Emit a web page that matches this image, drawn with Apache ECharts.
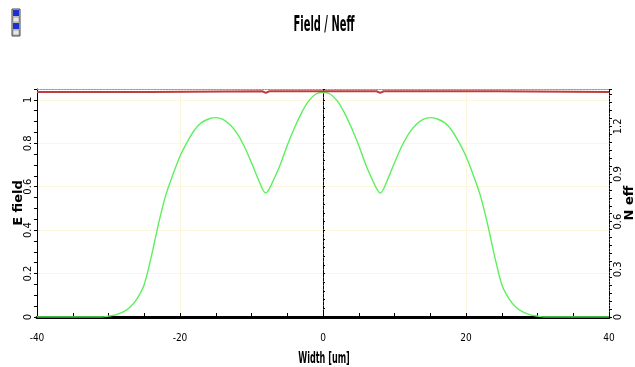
<!DOCTYPE html>
<html><head><meta charset="utf-8">
<script src="https://cdn.jsdelivr.net/npm/echarts@6/dist/echarts.min.js"></script>
<style>html,body{margin:0;padding:0;background:#fff}#c{width:635px;height:367px}</style>
</head><body><div id="c"></div>
<script>
// E field profile (Width [um] -> normalized field)
const fieldX = [-40, -31, -30, -29, -28, -27, -26, -25, -24, -23, -22, -21, -20, -19, -18, -17, -16, -15, -14, -13, -12, -11, -10, -9, -8.4, -8, -7.6, -7, -6, -5, -4, -3, -2, -1, 0,
                1, 2, 3, 4, 5, 6, 7, 7.6, 8, 8.4, 9, 10, 11, 12, 13, 14, 15, 16, 17, 18, 19, 20, 21, 22, 23, 24, 25, 26, 27, 28, 29, 30, 31, 40];
const fieldY = [0, 0, 0.004, 0.01, 0.022, 0.045, 0.085, 0.15, 0.28, 0.43, 0.56, 0.655, 0.74, 0.805, 0.86, 0.895, 0.912, 0.918, 0.91, 0.885, 0.845, 0.785, 0.71, 0.63, 0.585, 0.571, 0.585, 0.625, 0.70, 0.79, 0.87, 0.94, 0.995, 1.027, 1.035,
                1.027, 0.995, 0.94, 0.87, 0.79, 0.70, 0.625, 0.585, 0.571, 0.585, 0.63, 0.71, 0.785, 0.845, 0.885, 0.91, 0.918, 0.912, 0.895, 0.86, 0.805, 0.74, 0.655, 0.56, 0.43, 0.28, 0.15, 0.085, 0.045, 0.022, 0.01, 0.004, 0, 0];
// Effective index
const neffX = [-40, -24.2, -24, -8.5, -8, -7.5, 7.5, 8, 8.5, 24, 24.2, 40];
const neffY = [1.416, 1.416, 1.421, 1.421, 1.411, 1.421, 1.421, 1.411, 1.421, 1.421, 1.416, 1.416];

const NARROW = "'Liberation Sans Narrow','DejaVu Sans Condensed','Arial Narrow',sans-serif";
const WIDE = "'DejaVu Sans',sans-serif";

const chart = echarts.init(document.getElementById('c'), null, {renderer: 'canvas'});
chart.setOption({
  animation: false,
  backgroundColor: '#ffffff',
  graphic: [
    {type: 'text', x: 324, y: 25, scaleX: 0.5,
     style: {text: 'Field / Neff', font: 'bold 22px ' + NARROW, fill: '#000', align: 'center', verticalAlign: 'middle'}},
    {type: 'text', x: 324, y: 359, scaleX: 0.6,
     style: {text: 'Width [um]', font: 'bold 15px ' + NARROW, fill: '#000', align: 'center', verticalAlign: 'middle'}},
    {type: 'group', x: 12, y: 9, children: [
      {type: 'rect', shape: {x: 0, y: 0, width: 8, height: 27}, style: {fill: '#d8d8d8', stroke: '#444', lineWidth: 1}},
      {type: 'rect', shape: {x: 1, y: 1, width: 6, height: 6}, style: {fill: '#1e2fd0'}},
      {type: 'rect', shape: {x: 1, y: 8, width: 6, height: 5}, style: {fill: '#e8e8e8', stroke: '#666', lineWidth: 0.5}},
      {type: 'rect', shape: {x: 1, y: 14, width: 6, height: 6}, style: {fill: '#1e2fd0'}},
      {type: 'rect', shape: {x: 1, y: 21, width: 6, height: 5}, style: {fill: '#e8e8e8', stroke: '#666', lineWidth: 0.5}}
    ]}
  ],
  grid: {left: 37, right: 26, top: 89, bottom: 50, outerBoundsMode: 'none', containLabel: false},
  xAxis: [
    {type: 'value', position: 'bottom', min: -40, max: 40, interval: 20,
     axisLine: {onZero: false, lineStyle: {color: '#000', width: 3}},
     axisTick: {show: true, inside: true, length: 4, lineStyle: {color: '#000'}},
     minorTick: {show: true, splitNumber: 4, length: 4, lineStyle: {color: '#000'}},
     axisLabel: {fontFamily: NARROW, fontSize: 10, color: '#000', margin: 16},
     splitLine: {show: true, lineStyle: {color: '#fcf6dc', width: 1}}},
    {type: 'value', position: 'top', min: -40, max: 40, interval: 20,
     axisLine: {onZero: false, lineStyle: {color: '#9a9a9a', width: 1, type: [2, 1]}},
     axisTick: {show: false}, axisLabel: {show: false}, splitLine: {show: false}}
  ],
  yAxis: [
    {type: 'value', position: 'left', min: 0, max: 1.05, interval: 0.2,
     name: 'E field', nameLocation: 'middle', nameGap: 12, nameRotate: 90, nameMoveOverlap: false,
     nameTextStyle: {fontFamily: WIDE, fontWeight: 'bold', fontSize: 13, color: '#000'},
     axisLine: {onZero: false, lineStyle: {color: '#000', width: 1}},
     axisTick: {show: true, length: 3, lineStyle: {color: '#000'}},
     minorTick: {show: true, splitNumber: 4, length: 3, lineStyle: {color: '#000'}},
     axisLabel: {rotate: 90, fontFamily: WIDE, fontSize: 10, color: '#000', margin: 4, showMaxLabel: false},
     splitLine: {show: true, lineStyle: {color: '#fcf6dc', width: 1}}},
    {type: 'value', position: 'right', min: 0, max: 1.435, interval: 0.3,
     name: 'N eff', nameLocation: 'middle', nameGap: 14, nameRotate: 90, nameMoveOverlap: false,
     nameTextStyle: {fontFamily: WIDE, fontWeight: 'bold', fontSize: 13, color: '#000'},
     axisLine: {onZero: false, lineStyle: {color: '#000', width: 1, type: [2, 1]}},
     axisTick: {show: true, length: 3, lineStyle: {color: '#000'}},
     minorTick: {show: true, splitNumber: 6, length: 3, lineStyle: {color: '#000'}},
     axisLabel: {rotate: 90, fontFamily: WIDE, fontSize: 10, color: '#000', margin: 4, showMaxLabel: false},
     splitLine: {show: false}},
    {type: 'value', position: 'left', min: 0, max: 1.05, interval: 0.2,
     axisLine: {onZero: true, lineStyle: {color: '#000', width: 1, type: [3, 1]}},
     axisTick: {show: true, length: 2, inside: true, lineStyle: {color: '#000'}},
     minorTick: {show: true, splitNumber: 5, length: 2, lineStyle: {color: '#000'}},
     axisLabel: {show: false}, splitLine: {show: false}}
  ],
  series: [
    {type: 'line', name: 'E field', xAxisIndex: 0, yAxisIndex: 0, showSymbol: false, smooth: 0.3,
     data: fieldX.map((x, i) => [x, fieldY[i]]),
     lineStyle: {color: '#5df05d', width: 1.4}, z: 3},
    {type: 'line', name: 'N eff', xAxisIndex: 0, yAxisIndex: 1, showSymbol: false,
     data: neffX.map((x, i) => [x, neffY[i]]),
     lineStyle: {color: '#c23b3b', width: 2}, z: 3}
  ]
});
</script></body></html>
